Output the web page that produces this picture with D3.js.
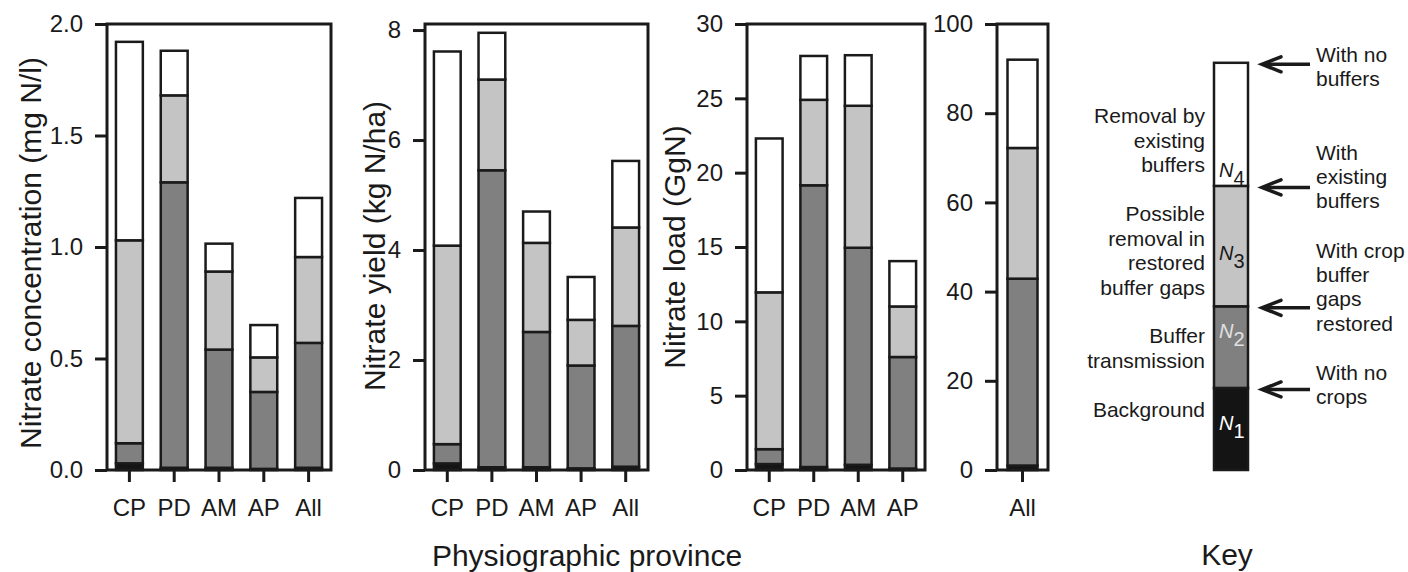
<!DOCTYPE html>
<html>
<head>
<meta charset="utf-8">
<script src="https://cdn.jsdelivr.net/npm/d3@7"></script>
<style>
  html, body { margin: 0; padding: 0; background: #fff; }
  svg { display: block; font-family: "Liberation Sans", Arial, Helvetica, sans-serif; }
  text { fill: #1a1a1a; }
</style>
</head>
<body>
<svg id="chart" width="1408" height="572"></svg>
<script>
// ---------------- DATA ----------------
const provinces = ["CP", "PD", "AM", "AP", "All"];
const provincesLoad = ["CP", "PD", "AM", "AP"];
const allOnly = ["All"];
const seriesKeys = ["N1", "N2", "N3", "N4"];

// Nitrate concentration (mg N/l), stacked segments N1..N4
const concN1 = [0.03, 0.01, 0.01, 0.005, 0.01];
const concN2 = [0.09, 1.28, 0.53, 0.345, 0.56];
const concN3 = [0.91, 0.39, 0.35, 0.155, 0.385];
const concN4 = [0.89, 0.20, 0.125, 0.145, 0.265];

// Nitrate yield (kg N/ha)
const yieldN1 = [0.12, 0.05, 0.05, 0.03, 0.06];
const yieldN2 = [0.35, 5.40, 2.46, 1.87, 2.56];
const yieldN3 = [3.61, 1.65, 1.62, 0.83, 1.79];
const yieldN4 = [3.53, 0.85, 0.57, 0.78, 1.21];

// Nitrate load (GgN), provinces
const loadN1 = [0.4, 0.2, 0.35, 0.1];
const loadN2 = [1.0, 18.95, 14.6, 7.5];
const loadN3 = [10.55, 5.75, 9.55, 3.4];
const loadN4 = [10.35, 2.95, 3.4, 3.05];

// Nitrate load (GgN), all
const loadAllN1 = [1.0];
const loadAllN2 = [41.9];
const loadAllN3 = [29.3];
const loadAllN4 = [19.8];

// Key (schematic) segments
const keyValues = [18.4, 18.3, 27.0, 27.6];
const keyLeftLabels = [
  ["Removal by", "existing", "buffers"],
  ["Possible", "removal in", "restored", "buffer gaps"],
  ["Buffer", "transmission"],
  ["Background"]
];
const keyRightLabels = [
  ["With no", "buffers"],
  ["With", "existing", "buffers"],
  ["With crop", "buffer", "gaps", "restored"],
  ["With no", "crops"]
];
const keySegLabels = ["1", "2", "3", "4"];

const concTicks = [0, 0.5, 1.0, 1.5, 2.0];
const yieldTicks = [0, 2, 4, 6, 8];
const loadTicks = [0, 5, 10, 15, 20, 25, 30];
const loadAllTicks = [0, 20, 40, 60, 80, 100];

const axisTitles = ["Nitrate concentration (mg N/l)", "Nitrate yield (kg N/ha)", "Nitrate load (GgN)"];
const xTitle = "Physiographic province";
const keyTitle = "Key";

// ---------------- STYLE ----------------
const colors = { N1: "#141414", N2: "#808080", N3: "#c4c4c4", N4: "#ffffff" };
const ink = "#1a1a1a";
const TOP = 24, BOTTOM = 470;

const svg = d3.select("#chart");

function rows(cats, a, b, c, d) {
  return cats.map((cat, i) => ({ cat, N1: a[i], N2: b[i], N3: c[i], N4: d[i] }));
}

function panel(opts) {
  const { cats, data, x0, x1, ymax, ticks, fmt, padOuter, padInner } = opts;
  const x = d3.scaleBand().domain(cats).range([x0, x1]).paddingInner(padInner).paddingOuter(padOuter);
  const y = d3.scaleLinear().domain([0, ymax]).range([BOTTOM, TOP]);
  const g = svg.append("g");

  const stack = d3.stack().keys(seriesKeys)(data);
  g.selectAll("g.series").data(stack).join("g")
    .attr("fill", d => colors[d.key])
    .selectAll("rect").data(d => d).join("rect")
    .attr("x", d => x(d.data.cat))
    .attr("width", x.bandwidth())
    .attr("y", d => y(d[1]))
    .attr("height", d => y(d[0]) - y(d[1]))
    .attr("stroke", ink).attr("stroke-width", 2.5);

  // frame
  g.append("rect").attr("x", x0).attr("y", TOP).attr("width", x1 - x0).attr("height", BOTTOM - TOP)
    .attr("fill", "none").attr("stroke", ink).attr("stroke-width", 3);

  const ya = d3.axisLeft(y).tickValues(ticks).tickSize(12).tickPadding(12).tickSizeOuter(0);
  if (fmt) ya.tickFormat(d3.format(fmt));
  const yg = g.append("g").attr("transform", `translate(${x0},0)`).call(ya);
  yg.select(".domain").remove();
  yg.selectAll("line").attr("stroke", ink).attr("stroke-width", 3);
  yg.selectAll("text").attr("font-size", 24).attr("fill", ink).style("font-family", "inherit");

  const xa = d3.axisBottom(x).tickSize(12).tickPadding(17).tickSizeOuter(0);
  const xg = g.append("g").attr("transform", `translate(0,${BOTTOM})`).call(xa);
  xg.select(".domain").remove();
  xg.selectAll("line").attr("stroke", ink).attr("stroke-width", 3);
  xg.selectAll("text").attr("font-size", 24).attr("fill", ink).style("font-family", "inherit");
  return { x, y };
}

panel({ cats: provinces, data: rows(provinces, concN1, concN2, concN3, concN4),
  x0: 107, x1: 331, ymax: 2.0, ticks: concTicks, fmt: ".1f", padInner: 0.4, padOuter: 0.2 });
panel({ cats: provinces, data: rows(provinces, yieldN1, yieldN2, yieldN3, yieldN4),
  x0: 425, x1: 648, ymax: 8.11, ticks: yieldTicks, fmt: "d", padInner: 0.4, padOuter: 0.2 });
panel({ cats: provincesLoad, data: rows(provincesLoad, loadN1, loadN2, loadN3, loadN4),
  x0: 747, x1: 925, ymax: 30, ticks: loadTicks, fmt: "d", padInner: 0.4, padOuter: 0.2 });
const p4 = panel({ cats: allOnly, data: rows(allOnly, loadAllN1, loadAllN2, loadAllN3, loadAllN4),
  x0: 997, x1: 1048, ymax: 100, ticks: loadAllTicks, fmt: "d", padInner: 0.4, padOuter: 0.21 });

// axis titles
const titlePos = [[41, 253], [385, 246], [685, 247]];
axisTitles.forEach((t, i) => {
  svg.append("text").attr("transform", `translate(${titlePos[i][0]},${titlePos[i][1]}) rotate(-90)`)
    .attr("text-anchor", "middle").attr("font-size", 30).text(t);
});
svg.append("text").attr("x", 587).attr("y", 566).attr("text-anchor", "middle").attr("font-size", 30).text(xTitle);
svg.append("text").attr("x", 1227).attr("y", 565).attr("text-anchor", "middle").attr("font-size", 30).text(keyTitle);

// ---------------- KEY ----------------
const ky = p4.y;
const kx = d3.scaleBand().domain(["key"]).range([1214, 1248]);
const keyRow = { cat: "key" };
seriesKeys.forEach((k, i) => keyRow[k] = keyValues[i]);
const keyStack = d3.stack().keys(seriesKeys)([keyRow]);
const kg = svg.append("g");
kg.selectAll("rect").data(keyStack).join("rect")
  .attr("x", kx("key")).attr("width", kx.bandwidth())
  .attr("y", d => ky(d[0][1])).attr("height", d => ky(d[0][0]) - ky(d[0][1]))
  .attr("fill", d => colors[d.key])
  .attr("stroke", ink).attr("stroke-width", 2.5);

// N labels inside key
const nLayout = [ // baseline y of "N", colour
  { y: 430, c: "#ffffff" },
  { y: 338, c: "#e0e0e0" },
  { y: 260, c: ink },
  { y: 177, c: ink }
];
keySegLabels.forEach((s, i) => {
  const t = kg.append("text").attr("x", 1219).attr("y", nLayout[i].y).attr("font-size", 20)
    .attr("fill", nLayout[i].c).style("fill", nLayout[i].c);
  t.append("tspan").attr("font-style", "italic").text("N");
  t.append("tspan").attr("dy", 8).attr("font-size", 20).text(s);
});

// left labels
const leftBase = [123, 221, 343, 417];
keyLeftLabels.forEach((lines, i) => {
  lines.forEach((l, j) => {
    kg.append("text").attr("x", 1205).attr("y", leftBase[i] + j * 24.5)
      .attr("text-anchor", "end").attr("font-size", 21).text(l);
  });
});

// right labels
const rightBase = [62, 160, 258, 380];
keyRightLabels.forEach((lines, i) => {
  lines.forEach((l, j) => {
    kg.append("text").attr("x", 1316).attr("y", rightBase[i] + j * 24.2)
      .attr("font-size", 21).text(l);
  });
});

// arrows at cumulative boundaries
const cum = d3.cumsum(keyValues);
const arrowLevels = [cum[3], cum[2], cum[1], cum[0]];
arrowLevels.forEach(v => {
  const yy = ky(v) + 1.5;
  kg.append("line").attr("x1", 1263).attr("x2", 1310).attr("y1", yy).attr("y2", yy)
    .attr("stroke", ink).attr("stroke-width", 3.5);
  kg.append("path").attr("d", `M1281,${yy - 7.5} L1262,${yy} L1281,${yy + 7.5}`)
    .attr("fill", "none").attr("stroke", ink).attr("stroke-width", 3.5)
    .attr("stroke-linejoin", "miter").attr("stroke-linecap", "round");
});
</script>
</body>
</html>
